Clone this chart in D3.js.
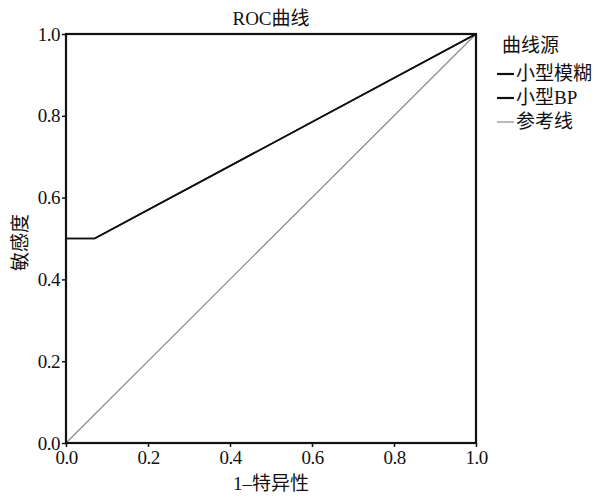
<!DOCTYPE html>
<html>
<head>
<meta charset="utf-8">
<script src="https://cdn.jsdelivr.net/npm/d3@7"></script>
<style>
  html, body { margin: 0; padding: 0; background: #fff; }
  svg { display: block; }
  text { fill: #111; }
</style>
</head>
<body>
<svg id="chart" width="600" height="497"></svg>
<script>
// ROC curve points: 1 - specificity (x) vs sensitivity (y)
const fuzzyX = [0.0, 0.07, 1.0];
const fuzzyY = [0.5, 0.5, 1.0];
const bpX = [0.0, 0.07, 1.0];
const bpY = [0.5, 0.5, 1.0];
const refX = [0.0, 1.0];
const refY = [0.0, 1.0];
const tickValues = [0.0, 0.2, 0.4, 0.6, 0.8, 1.0];
const legendTitle = "曲线源";
const seriesNames = ["小型模糊", "小型BP", "参考线"];

const latin = "'Liberation Serif', 'Times New Roman', serif";
const cjk = "'Liberation Serif', 'Noto Sans CJK SC', serif";

const svg = d3.select("#chart");
const margin = { left: 66, top: 34, right: 124, bottom: 54 };
const W = 600, H = 497;
const x = d3.scaleLinear().domain([0, 1]).range([margin.left, W - margin.right]);
const y = d3.scaleLinear().domain([0, 1]).range([H - margin.bottom, margin.top]);

const fmt = d3.format(".1f");

// axes
const xAxis = svg.append("g")
  .attr("transform", `translate(0,${y(0)})`)
  .call(d3.axisBottom(x).tickValues(tickValues).tickFormat(fmt).tickSize(4).tickPadding(4));
const yAxis = svg.append("g")
  .attr("transform", `translate(${x(0)},0)`)
  .call(d3.axisLeft(y).tickValues(tickValues).tickFormat(fmt).tickSize(4).tickPadding(2));
[xAxis, yAxis].forEach(a => {
  a.select(".domain").remove();
  a.selectAll("line").attr("stroke", "#111").attr("stroke-width", 1.5);
  a.selectAll("text").style("font-family", latin).style("font-size", "19px")
    .style("letter-spacing", "-0.5px").attr("fill", "#111");
});

// series lines
const line = d3.line().x(d => x(d[0])).y(d => y(d[1]));
const zip = (xs, ys) => xs.map((v, i) => [v, ys[i]]);

svg.append("path").datum(zip(refX, refY)).attr("d", line)
  .attr("fill", "none").attr("stroke", "#8a8a8a").attr("stroke-width", 1.2);
svg.append("path").datum(zip(bpX, bpY)).attr("d", line)
  .attr("fill", "none").attr("stroke", "#111").attr("stroke-width", 1.6);
svg.append("path").datum(zip(fuzzyX, fuzzyY)).attr("d", line)
  .attr("fill", "none").attr("stroke", "#111").attr("stroke-width", 1.6);

// plot frame
svg.append("rect")
  .attr("x", x(0)).attr("y", y(1))
  .attr("width", x(1) - x(0)).attr("height", y(0) - y(1))
  .attr("fill", "none").attr("stroke", "#111").attr("stroke-width", 2.2);

// title and axis labels
svg.append("text").attr("x", (x(0) + x(1)) / 2).attr("y", 25)
  .attr("text-anchor", "middle").style("font-family", cjk).style("font-size", "19px")
  .text("ROC曲线");
svg.append("text").attr("x", (x(0) + x(1)) / 2).attr("y", 490)
  .attr("text-anchor", "middle").style("font-family", cjk).style("font-size", "19px")
  .text("1–特异性");
svg.append("text")
  .attr("transform", `translate(27,${(y(0) + y(1)) / 2 + 4}) rotate(-90)`)
  .attr("text-anchor", "middle").style("font-family", cjk).style("font-size", "19px")
  .text("敏感度");

// legend
const lg = svg.append("g").attr("transform", "translate(497,0)");
lg.append("text").attr("x", 5).attr("y", 52)
  .style("font-family", cjk).style("font-size", "19px").text(legendTitle);
const legendStyles = [
  { stroke: "#111", width: 2.2 },
  { stroke: "#111", width: 2.2 },
  { stroke: "#8a8a8a", width: 1.2 }
];
seriesNames.forEach((name, i) => {
  const cy = 74 + i * 24;
  lg.append("line").attr("x1", 0).attr("x2", 17).attr("y1", cy).attr("y2", cy)
    .attr("stroke", legendStyles[i].stroke).attr("stroke-width", legendStyles[i].width);
  lg.append("text").attr("x", 19).attr("y", cy + 6)
    .style("font-family", cjk).style("font-size", "19px").text(name);
});
</script>
</body>
</html>
